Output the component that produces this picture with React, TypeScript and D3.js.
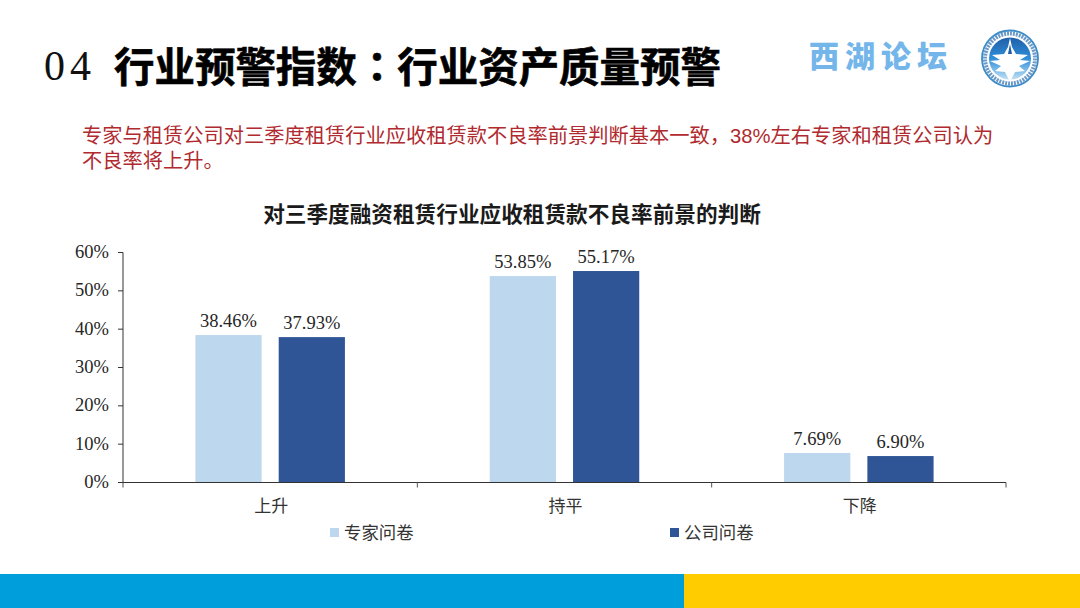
import React from "react";
import * as d3 from "d3";

const categories = ["上升", "持平", "下降"];
const seriesNames = ["专家问卷", "公司问卷"];
const expertValues = [38.46, 53.85, 7.69];
const companyValues = [37.93, 55.17, 6.9];
const yTicks = [0, 10, 20, 30, 40, 50, 60];
const colors = ["#BDD7EE", "#2F5597"];

const CJK = '"Noto Sans CJK SC", "Noto Sans", sans-serif';
const CJKTC = '"Noto Sans CJK TC", "Noto Sans CJK SC", sans-serif';
const SERIF = '"Liberation Serif", serif';
const SANS = '"Liberation Sans", "Noto Sans CJK SC", sans-serif';

export default function App() {
  const x = d3.scaleBand<string>().domain(categories).range([123, 1006]);
  const y = d3.scaleLinear().domain([0, 60]).range([482.5, 252.5]);
  const inner = d3.scaleBand<string>().domain(seriesNames).range([0, 149.5]).paddingInner(0.205);
  const groupOffset = (x.bandwidth() - 149.5) / 2;
  const series = [expertValues, companyValues];
  const fmt = (v: number) => v.toFixed(2) + "%";
  const edges = [...categories.map((c) => x(c) as number), 1006];

  return (
    <svg width={1080} height={608} style={{ position: "absolute", left: 0, top: 0, background: "#fff" }}>
      <defs>
        <linearGradient id="emblem" x1="0" y1="0" x2="0" y2="1">
          <stop offset="0" stopColor="#1F5FA8" />
          <stop offset="0.5" stopColor="#2F8FD8" />
          <stop offset="1" stopColor="#BFE0F5" />
        </linearGradient>
      </defs>
      <text x={44} y={80} fontFamily={SERIF} fontSize={42} letterSpacing={5} fill="#111">04</text>
      <text x={114} y={82} fontFamily={CJKTC} fontWeight={700} fontSize={40.5} fill="#000" stroke="#000" strokeWidth={0.6} textLength={607}>行业预警指数：行业资产质量预警</text>

      <text x={809} y={67} fontFamily={CJK} fontWeight={900} fontSize={30} fill="#74B6EA" textLength={138}>西湖论坛</text>
      <g>
        <circle cx={1010} cy={58.5} r={28} fill="#fff" stroke="#3C8CC8" strokeWidth={1.8} />
        <circle cx={1010} cy={58.5} r={25} fill="none" stroke="#2C6FB0" strokeWidth={4} strokeDasharray="2 1" opacity={0.7} />
        <circle cx={1010} cy={58.5} r={21} fill="url(#emblem)" />
        <path d="M1010 38 L1012 47 L1016 54 L1028 55 L1020 60 L1030 61 L1019 66 L1025 71 L1015 72 L1011 80 L1009 80 L1005 72 L995 71 L1001 66 L990 61 L1000 60 L992 55 L1004 54 L1008 47 Z" fill="#fff" />
        <path d="M1010 44 L1012 54 L1008 54 Z" fill="#1F5FA8" />
      </g>

      <text fontFamily={SANS} fontSize={20.25} fill="#B02A30">
        <tspan x={82} y={143}>专家与租赁公司对三季度租赁行业应收租赁款不良率前景判断基本一致，38%左右专家和租赁公司认为</tspan>
        <tspan x={82} y={168}>不良率将上升。</tspan>
      </text>

      <text x={512} y={222} textAnchor="middle" fontFamily={CJK} fontWeight={700} fontSize={21.65} fill="#1a1a1a">对三季度融资租赁行业应收租赁款不良率前景的判断</text>

      {series.map((vals, s) =>
        vals.map((v, i) => {
          const bx = (x(categories[i]) as number) + groupOffset + (inner(seriesNames[s]) as number);
          return (
            <g key={`${s}-${i}`}>
              <rect x={bx} y={y(v)} width={inner.bandwidth()} height={y(0) - y(v)} fill={colors[s]} />
              <text x={bx + inner.bandwidth() / 2} y={y(v) - 8} textAnchor="middle" fontFamily={SERIF} fontSize={18.5} fill="#262626">{fmt(v)}</text>
            </g>
          );
        })
      )}

      <line x1={123} x2={123} y1={y(60)} y2={y(0)} stroke="#333" strokeWidth={1} />
      <line x1={123} x2={1006} y1={y(0)} y2={y(0)} stroke="#333" strokeWidth={1} />
      {yTicks.map((t) => (
        <g key={t}>
          <line x1={118} x2={123} y1={y(t)} y2={y(t)} stroke="#333" />
          <text x={109} y={y(t) + 5.5} textAnchor="end" fontFamily={SERIF} fontSize={18.5} fill="#262626">{t}%</text>
        </g>
      ))}
      {edges.map((e, i) => (
        <line key={i} x1={e} x2={e} y1={y(0)} y2={y(0) + 5} stroke="#555" />
      ))}
      {categories.map((c) => (
        <text key={c} x={(x(c) as number) + x.bandwidth() / 2 + 1} y={512} textAnchor="middle" fontFamily={CJK} fontSize={17} fill="#333">{c}</text>
      ))}

      {seriesNames.map((n, i) => {
        const lx = [330, 670][i];
        return (
          <g key={n}>
            <rect x={lx} y={528} width={9} height={9} fill={colors[i]} />
            <text x={lx + 14} y={538.5} fontFamily={CJK} fontSize={17.4} fill="#333">{n}</text>
          </g>
        );
      })}

      <rect x={0} y={574} width={684} height={34} fill="#009FDB" />
      <rect x={684} y={574} width={396} height={34} fill="#FFCC00" />
    </svg>
  );
}
